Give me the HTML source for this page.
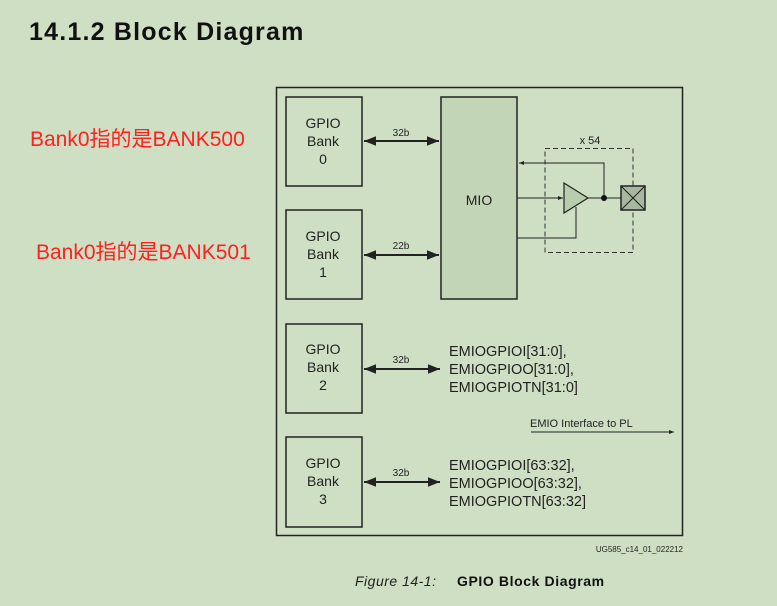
<!DOCTYPE html>
<html><head><meta charset="utf-8"><style>
html,body{margin:0;padding:0;background:#cfdfc4;}
svg{display:block}
</style></head><body>
<svg width="777" height="606" xmlns="http://www.w3.org/2000/svg" font-family="Liberation Sans, Arial, sans-serif">
<defs>
<marker id="a" viewBox="0 0 10 10" refX="10" refY="5" markerWidth="8" markerHeight="6" orient="auto-start-reverse"><path d="M0,1 L10,5 L0,9 z" fill="#222"/></marker>
<marker id="s" viewBox="0 0 10 10" refX="10" refY="5" markerWidth="7" markerHeight="5" orient="auto"><path d="M0,1 L10,5 L0,9 z" fill="#222"/></marker>
</defs>
<rect width="777" height="606" fill="#cfdfc4"/>
<text x="29" y="40" font-size="25" font-weight="bold" fill="#111" letter-spacing="1.2">14.1.2  Block Diagram</text>
<text x="30" y="146" font-size="21" fill="#ff2020" font-family="Liberation Sans, Noto Sans CJK SC, sans-serif">Bank0指的是BANK500</text>
<text x="36" y="259" font-size="21" fill="#ff2020" font-family="Liberation Sans, Noto Sans CJK SC, sans-serif">Bank0指的是BANK501</text>
<rect x="276.5" y="87.5" width="406" height="448" fill="none" stroke="#222" stroke-width="1.5"/>
<g fill="none" stroke="#222" stroke-width="1.5">
<rect x="286" y="97" width="76" height="89"/>
<rect x="286" y="210" width="76" height="89"/>
<rect x="286" y="324" width="76" height="89"/>
<rect x="286" y="437" width="76" height="90"/>
</g>
<rect x="441" y="97" width="76" height="202" fill="#c2d5b6" stroke="#222" stroke-width="1.5"/>
<text x="479" y="205" font-size="14" text-anchor="middle" fill="#222">MIO</text>
<g font-size="14" text-anchor="middle" fill="#222">
<text x="323" y="128">GPIO</text><text x="323" y="146">Bank</text><text x="323" y="164">0</text>
<text x="323" y="241">GPIO</text><text x="323" y="259">Bank</text><text x="323" y="277">1</text>
<text x="323" y="354">GPIO</text><text x="323" y="372">Bank</text><text x="323" y="390">2</text>
<text x="323" y="468">GPIO</text><text x="323" y="486">Bank</text><text x="323" y="504">3</text>
</g>
<g stroke="#222" stroke-width="2" marker-start="url(#a)" marker-end="url(#a)">
<line x1="364" y1="141" x2="439" y2="141"/>
<line x1="364" y1="255" x2="439" y2="255"/>
<line x1="364" y1="369" x2="440" y2="369"/>
<line x1="364" y1="482" x2="440" y2="482"/>
</g>
<g font-size="10" text-anchor="middle" fill="#222">
<text x="401" y="136">32b</text><text x="401" y="249">22b</text>
<text x="401" y="363">32b</text><text x="401" y="476">32b</text>
</g>
<g font-size="14.5" fill="#222">
<text x="449" y="356">EMIOGPIOI[31:0],</text>
<text x="449" y="374">EMIOGPIOO[31:0],</text>
<text x="449" y="392">EMIOGPIOTN[31:0]</text>
<text x="449" y="470">EMIOGPIOI[63:32],</text>
<text x="449" y="488">EMIOGPIOO[63:32],</text>
<text x="449" y="506">EMIOGPIOTN[63:32]</text>
</g>
<text x="530" y="427" font-size="11" fill="#222">EMIO Interface to PL</text>
<line x1="531" y1="432" x2="674" y2="432" stroke="#222" stroke-width="1" marker-end="url(#s)"/>
<text x="590" y="144" font-size="11" text-anchor="middle" fill="#222">x 54</text>
<rect x="545" y="148.5" width="88" height="104" fill="none" stroke="#333" stroke-width="1" stroke-dasharray="5,3"/>
<g stroke="#222" stroke-width="1" fill="none">
<polyline points="604,198 604,163 519,163" marker-end="url(#s)"/>
<line x1="517" y1="198" x2="563" y2="198" marker-end="url(#s)"/>
<polyline points="517,238 576,238 576,207"/>
<line x1="588" y1="198" x2="621" y2="198"/>
</g>
<polygon points="564,183 588,198 564,213" fill="#b8ccae" stroke="#222" stroke-width="1.2"/>
<circle cx="604" cy="198" r="3" fill="#111"/>
<rect x="621" y="186" width="24" height="24" fill="#a8b8a0" stroke="#222" stroke-width="1.5"/>
<line x1="621" y1="186" x2="645" y2="210" stroke="#222"/><line x1="645" y1="186" x2="621" y2="210" stroke="#222"/>
<text x="683" y="552" font-size="8" text-anchor="end" fill="#222">UG585_c14_01_022212</text>
<text x="355" y="586" font-size="14" font-style="italic" fill="#222" letter-spacing="0.5">Figure 14-1:</text>
<text x="457" y="586" font-size="14" font-weight="bold" fill="#111" letter-spacing="0.6">GPIO Block Diagram</text>
</svg>
</body></html>
